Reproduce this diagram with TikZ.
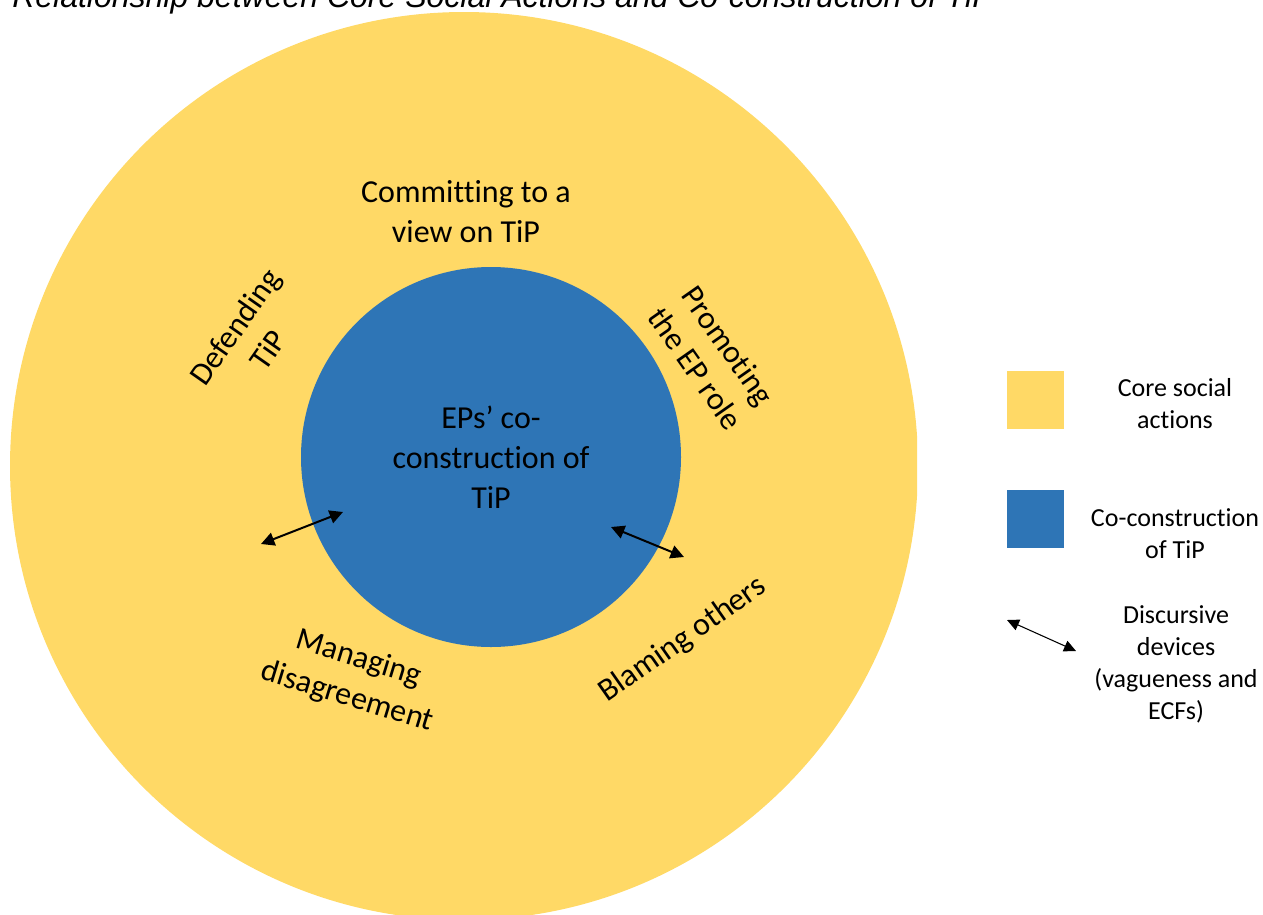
\documentclass[tikz,border=0pt]{standalone}
\usepackage{fontspec}
\setmainfont{Carlito}[Ligatures=NoCommon]
\newfontfamily\titlefont{Liberation Sans}
\usetikzlibrary{arrows.meta}

\definecolor{coreyellow}{HTML}{FFD966}
\definecolor{tipblue}{HTML}{2E75B6}

\tikzset{
  actiontext/.style={font=\fontsize{24}{30}\selectfont, align=center},
  keytext/.style={font=\fontsize{19.5}{24}\selectfont, align=center},
  keybox/.style={minimum width=43pt, minimum height=43.5pt, inner sep=0pt},
  device/.style={{Triangle[length=10pt,width=10pt]}-{Triangle[length=10pt,width=10pt]}, line width=1.5pt},
  keydevice/.style={{Triangle[length=9pt,width=8.5pt]}-{Triangle[length=9pt,width=8.5pt]}, line width=0.8pt},
}

\begin{document}
\begin{tikzpicture}[x=0.75pt,y=-0.75pt]
    \useasboundingbox (0,0) rectangle (1263,914);
    % title, cut at the top edge
    \node[anchor=base west, inner sep=0pt, font=\titlefont\itshape\fontsize{24}{29}\selectfont] (title) at (12,7)
      {Relationship between Core Social Actions and Co-construction of TiP};
    % circles
    \begin{scope}
      \clip (0,0) rectangle (917,914);
      \node[circle, fill=coreyellow, minimum size=681pt] (core) at (464,466) {};
    \end{scope}
    \node[circle, fill=tipblue, minimum size=285pt, actiontext] (cotip) at (491,457) {EPs’ co-\\construction of\\TiP};
    % core social actions
    \node[actiontext]            (commit)  at (466,212) {Committing to a\\view on TiP};
    \node[actiontext, rotate=55] (defend)  at (251,338) {Defending\\TiP};
    \node[actiontext, rotate=-55](promote) at (712,357) {Promoting\\the EP role};
    \node[actiontext, rotate=-17](manage)  at (353,678) {Managing\\disagreement};
    \node[actiontext, rotate=35] (blame)   at (683,640) {Blaming others};
    % discursive devices
    \coordinate (dl1) at (261,544);
    \coordinate (dl2) at (343,512);
    \coordinate (dr1) at (611,527);
    \coordinate (dr2) at (684,557);
    \draw[device] (dl1) -- (dl2);
    \draw[device] (dr1) -- (dr2);
    % key
    \node[keybox, fill=coreyellow] (keycore) at (1035.5,400) {};
    \node[keytext] (keycoretxt) at (1175,404) {Core social\\actions};
    \node[keybox, fill=tipblue] (keytip) at (1035.5,519) {};
    \node[keytext] (keytiptxt) at (1175,534) {Co-construction\\of TiP};
    \coordinate (kd1) at (1007,620);
    \coordinate (kd2) at (1076,651);
    \draw[keydevice] (kd1) -- (kd2);
    \node[keytext] (keydevtxt) at (1176,664) {Discursive\\devices\\(vagueness and\\ECFs)};
\end{tikzpicture}
\end{document}
